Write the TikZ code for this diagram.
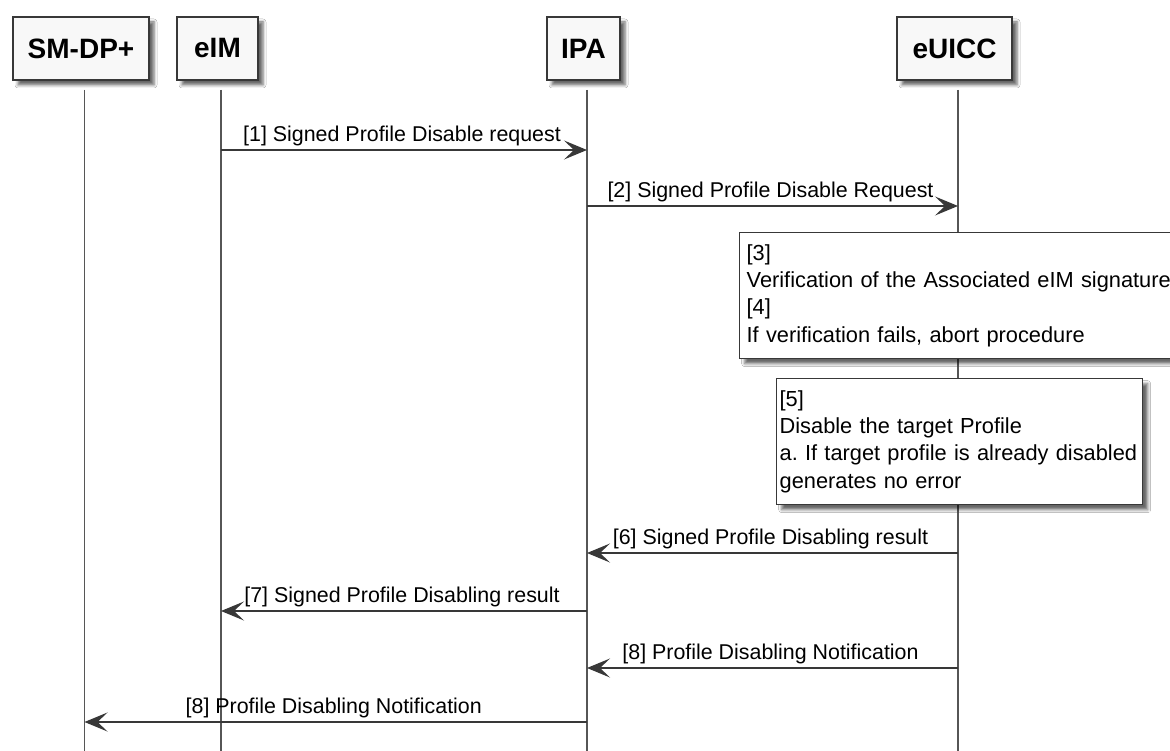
\documentclass[tikz,border=0pt]{standalone}
\usepackage{fontspec}
\setmainfont{Liberation Sans}
\usetikzlibrary{arrows.meta,shadows.blur}
\definecolor{umlline}{HTML}{383838}
\definecolor{umlfill}{HTML}{F8F8F8}
\frenchspacing
\hyphenpenalty=10000
\tikzset{
    umlshadow/.style={blur shadow={shadow xshift=5pt,shadow yshift=-5pt,shadow blur radius=3pt,shadow opacity=60}},
    actor/.style={draw=umlline,line width=1.6pt,fill=umlfill,minimum width=#1,minimum height=63pt,inner sep=0pt,font=\fontsize{28}{32}\selectfont\bfseries,umlshadow},
    lifeline/.style={draw=umlline!85,line width=1.4pt},
    msg/.style={draw=umlline,line width=1.4pt,-{Stealth[length=23pt,width=19pt,inset=10pt]}},
    msglabel/.style={font=\fontsize{21.4}{26}\selectfont,anchor=base,inner sep=0pt,xshift=-2pt,yshift=8.5pt},
    note/.style={draw=umlline,line width=1.3pt,fill=white,anchor=north west,minimum height=126pt,align=left,inner xsep=#1,inner ysep=0pt,font=\fontsize{21.8}{27.3}\selectfont,umlshadow}
}
\begin{document}
\begin{tikzpicture}[x=1pt,y=-1pt]
        \useasboundingbox[fill=white] (0,0) rectangle (1170,751);
        %% participants
        \node[actor=136pt] (dp) at (81,48.5) {SM-DP+};
        \node[actor=81pt] (eim) at (217.5,48.5) {eIM};
        \node[actor=73pt] (ipa) at (583.5,48.5) {IPA};
        \node[actor=115pt] (euicc) at (954.5,48.5) {eUICC};
        %% lifelines
        \foreach \p in {dp,eim,ipa,euicc}
            \draw[lifeline] ([shift={(3.5pt,-9pt)}]\p.south) coordinate (\p L) -- ++(0,700);
        %% rows
        \coordinate (m1) at (0,150);
        \coordinate (m2) at (0,206);
        \coordinate (m6) at (0,553);
        \coordinate (m7) at (0,611);
        \coordinate (m8) at (0,668);
        \coordinate (m9) at (0,722);
        %% notes
        \node[note=7pt,text width=440pt] (n34) at (739,232) {[3]\\Verification of the Associated eIM signature\\{}[4]\\If verification fails, abort procedure};
        \node[note=3pt,text width=360pt] (n5) at (776,378) {[5]\\Disable the target Profile\\a. If target profile is already disabled\\generates no error};
        %% messages
        \draw[msg] (eimL |- m1) -- node[msglabel] {[1] Signed Profile Disable request} (ipaL |- m1);
        \draw[msg] (ipaL |- m2) -- node[msglabel] {[2] Signed Profile Disable Request} (euiccL |- m2);
        \draw[msg] (euiccL |- m6) -- node[msglabel] {[6] Signed Profile Disabling result} (ipaL |- m6);
        \draw[msg] (ipaL |- m7) -- node[msglabel] {[7] Signed Profile Disabling result} (eimL |- m7);
        \draw[msg] (euiccL |- m8) -- node[msglabel] {[8] Profile Disabling Notification} (ipaL |- m8);
        \draw[msg] (ipaL |- m9) -- node[msglabel] {[8] Profile Disabling Notification} (dpL |- m9);
    \end{tikzpicture}
\end{document}
